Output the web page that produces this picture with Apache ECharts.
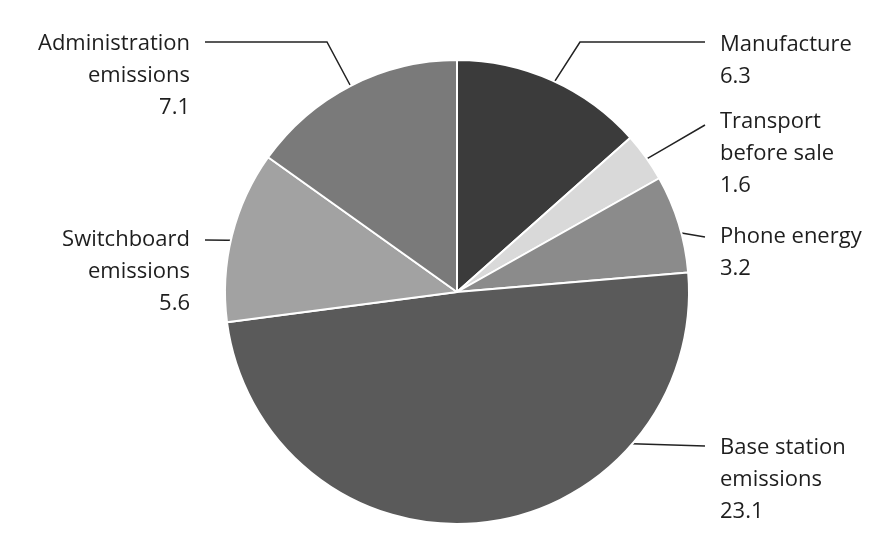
<!DOCTYPE html>
<html>
<head>
<meta charset="utf-8">
<script src="https://cdn.jsdelivr.net/npm/echarts@6/dist/echarts.min.js"></script>
<style>
  html, body { margin: 0; padding: 0; background: #fff; }
  #chart { width: 883px; height: 560px; }
</style>
</head>
<body>
<div id="chart"></div>
<script>
var names = ['Manufacture', 'Transport\nbefore sale', 'Phone energy', 'Base station\nemissions', 'Switchboard\nemissions', 'Administration\nemissions'];
var values = [6.3, 1.6, 3.2, 23.1, 5.6, 7.1];
var colors = ['#3b3b3b', '#d9d9d9', '#8b8b8b', '#5a5a5a', '#a2a2a2', '#7a7a7a'];

// label placement: first-line centre of each label, and where the leader line bends / ends
var labelX = [720, 720, 720, 720, 190, 190];
var labelY = [45, 122, 237, 448, 240, 44];
var elbows = [[580, 42], null, null, null, null, [327, 42]];
var lineEnds = [[705, 42], [705, 125], [705, 237], [705, 446], [205, 240], [205, 42]];
var anchorAngle = [null, null, null, 135, null, null]; // deg, clockwise from top

var cx = 457, cy = 292, R = 232;
var total = values.reduce(function (a, b) { return a + b; }, 0);
var midAngles = [];
var acc = 0;
values.forEach(function (v) {
    midAngles.push((acc + v / 2) / total * 360);
    acc += v;
});

var chart = echarts.init(document.getElementById('chart'));
chart.setOption({
    animation: false,
    series: [{
        type: 'pie',
        center: [cx, cy],
        radius: [0, R],
        startAngle: 90,
        clockwise: true,
        data: names.map(function (n, i) {
            return { name: n, value: values[i], itemStyle: { color: colors[i] } };
        }),
        itemStyle: { borderColor: '#fff', borderWidth: 2 },
        emphasis: { disabled: true },
        label: {
            show: true,
            position: 'outside',
            formatter: '{b}\n{c}',
            fontFamily: 'Open Sans',
            fontSize: 22,
            lineHeight: 32,
            color: '#1e1e1e'
        },
        labelLine: {
            show: true,
            length: 10,
            length2: 10,
            lineStyle: { color: '#222', width: 1.5 }
        },
        labelLayout: function (params) {
            var i = params.dataIndex;
            var a = (anchorAngle[i] != null ? anchorAngle[i] : midAngles[i]) * Math.PI / 180;
            var r = R * 0.92;
            var p0 = [cx + r * Math.sin(a), cy - r * Math.cos(a)];
            var end = lineEnds[i];
            var mid = elbows[i] || [(p0[0] + end[0]) / 2, (p0[1] + end[1]) / 2];
            var left = labelX[i] < cx;
            return {
                x: labelX[i],
                y: labelY[i] - 16,
                align: left ? 'right' : 'left',
                verticalAlign: 'top',
                labelLinePoints: [p0, mid, end]
            };
        }
    }]
});
</script>
</body>
</html>
